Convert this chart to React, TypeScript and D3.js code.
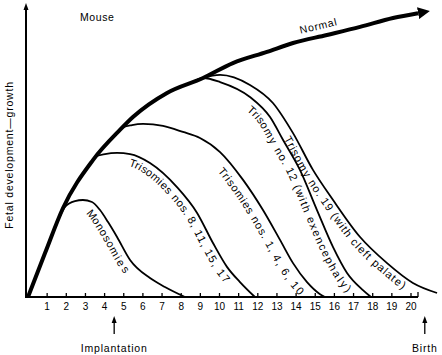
import React, { useEffect, useRef } from "react";
import * as d3 from "d3";

const W = 442;
const H = 355;

// x axis: days of gestation
const tickDays = d3.range(1, 21);

// Normal growth curve
const normalDays = [0, 0.89, 1.83, 3.39, 4.8, 5.48, 7.26, 9.14, 10.7, 12.48, 13.84, 15.61, 17.34, 19.06, 20.37];
const normalGrowth = [0, 15.3, 31.0, 47.7, 58.2, 62.7, 71.1, 76.3, 81.5, 85.4, 88.5, 91.3, 94.1, 97.2, 98.9];

// Monosomies
const monoDays = [1.67, 1.93, 2.45, 2.87, 3.34, 3.76, 4.18, 4.65, 5.33, 6.37, 7.15, 8.2];
const monoGrowth = [28.2, 31.4, 33.4, 33.8, 33.1, 30.3, 26.1, 20.9, 12.9, 6.6, 3.5, 0];

// Trisomies nos. 8, 11, 15, 17
const tri8Days = [3.24, 3.5, 4.02, 4.65, 5.33, 6.37, 7.78, 8.83, 9.66, 10.39, 11.07, 11.85];
const tri8Growth = [46.0, 48.8, 49.8, 50.2, 49.8, 46.7, 38.3, 29.3, 18.8, 10.5, 5.2, 0];

// Trisomies nos. 1, 4, 6, 10
const tri1Days = [4.54, 4.91, 5.43, 6.01, 7.05, 8.09, 8.98, 10.03, 11.23, 12.27, 13.16, 13.84, 14.57, 15.25, 15.51];
const tri1Growth = [56.4, 58.9, 59.9, 60.3, 59.6, 57.5, 55.4, 50.5, 40.8, 30.3, 19.9, 11.8, 5.2, 1.0, 0];

// Trisomy no. 12
const tri12Days = [8.72, 9.14, 10.03, 11.59, 12.64, 13.32, 14.2, 15.09, 15.93, 16.66, 17.49, 17.91];
const tri12Growth = [75.3, 76.3, 74.9, 69.7, 62.7, 54.7, 44.3, 30.3, 17.4, 8.4, 2.4, 0];

// Trisomy no. 19
const tri19Days = [8.72, 9.14, 10.03, 11.59, 12.79, 13.84, 14.88, 15.93, 17.34, 18.75, 20.1, 21.36];
const tri19Growth = [75.3, 76.3, 77.4, 73.9, 67.6, 57.1, 44.3, 33.8, 20.9, 11.8, 4.9, 1.4];

const seriesNames = [
  "Monosomies",
  "Trisomies nos. 8, 11, 15, 17",
  "Trisomies nos. 1, 4, 6, 10",
  "Trisomy no. 12 (with exencephaly)",
  "Trisomy no. 19 (with cleft palate)",
];
const seriesDays = [monoDays, tri8Days, tri1Days, tri12Days, tri19Days];
const seriesGrowth = [monoGrowth, tri8Growth, tri1Growth, tri12Growth, tri19Growth];
// where along each curve (in days) its label begins
const labelStartDay = [3.55, 5.45, 10.5, 11.85, 13.85];
const labelOffset = [13, 12, 15, 13, 11];
const labelSpacing = [1.0, 1.0, 1.0, 1.35, 0.9];

const eventNames = ["Implantation", "Birth"];
const eventDays = [4.5, 20.72];

const FONT = "'Liberation Sans', Arial, Helvetica, sans-serif";

export default function App() {
  const ref = useRef<SVGSVGElement | null>(null);

  useEffect(() => {
    const svg = d3.select(ref.current);
    svg.selectAll("*").remove();

    const x = d3.scaleLinear().domain([0, 20]).range([28, 411]);
    const y = d3.scaleLinear().domain([0, 100]).range([297, 10]);

    const line = d3
      .line<[number, number]>()
      .x((d) => x(d[0]))
      .y((d) => y(d[1]))
      .curve(d3.curveMonotoneX);

    const defs = svg.append("defs");
    defs
      .append("marker")
      .attr("id", "bigArrow")
      .attr("viewBox", "0 0 10 10")
      .attr("refX", 0)
      .attr("refY", 5)
      .attr("markerUnits", "userSpaceOnUse")
      .attr("markerWidth", 12)
      .attr("markerHeight", 13)
      .attr("orient", "auto")
      .append("path")
      .attr("d", "M0,0 L10,5 L0,10 Z")
      .attr("fill", "#000");

    // axes
    const x0 = 26;
    const y0 = y(0);
    svg
      .append("line")
      .attr("x1", x0)
      .attr("x2", x0)
      .attr("y1", y0 + 1)
      .attr("y2", 8)
      .attr("stroke", "#000")
      .attr("stroke-width", 2);
    svg
      .append("path")
      .attr("d", `M${x0 - 2.5},10 L${x0},3 L${x0 + 2.5},10 Z`)
      .attr("fill", "#000");
    svg
      .append("line")
      .attr("x1", x0 - 1)
      .attr("x2", 418)
      .attr("y1", y0)
      .attr("y2", y0)
      .attr("stroke", "#000")
      .attr("stroke-width", 2);
    svg
      .append("line")
      .attr("x1", 418)
      .attr("x2", 418)
      .attr("y1", y0)
      .attr("y2", y0 - 5)
      .attr("stroke", "#000")
      .attr("stroke-width", 1.3);

    const ticks = svg.append("g");
    ticks
      .selectAll("line")
      .data(tickDays)
      .join("line")
      .attr("x1", (d) => x(d))
      .attr("x2", (d) => x(d))
      .attr("y1", y0)
      .attr("y2", y0 - 4)
      .attr("stroke", "#000")
      .attr("stroke-width", 1.3);
    ticks
      .selectAll("text")
      .data(tickDays)
      .join("text")
      .attr("x", (d) => x(d))
      .attr("y", 310)
      .attr("text-anchor", "middle")
      .attr("font-family", FONT)
      .attr("font-size", 10)
      .text((d) => String(d));

    // event arrows
    eventNames.forEach((name, i) => {
      const ex = x(eventDays[i]);
      svg
        .append("line")
        .attr("x1", ex)
        .attr("x2", ex)
        .attr("y1", 334)
        .attr("y2", 322)
        .attr("stroke", "#000")
        .attr("stroke-width", 1.3);
      svg
        .append("path")
        .attr("d", `M${ex - 2.5},323 L${ex},316 L${ex + 2.5},323 Z`)
        .attr("fill", "#000");
      svg
        .append("text")
        .attr("x", ex)
        .attr("y", 352)
        .attr("text-anchor", "middle")
        .attr("font-family", FONT)
        .attr("font-size", 10.5)
        .attr("letter-spacing", 0.8)
        .text(name);
    });

    // titles
    svg
      .append("text")
      .attr("x", 80)
      .attr("y", 21)
      .attr("font-family", FONT)
      .attr("font-size", 10.5)
      .attr("letter-spacing", 0.6)
      .text("Mouse");
    svg
      .append("text")
      .attr("transform", "translate(13,155) rotate(-90)")
      .attr("text-anchor", "middle")
      .attr("font-family", FONT)
      .attr("font-size", 10.5)
      .attr("letter-spacing", 0.8)
      .text("Fetal development\u2014growth");

    const lengthAtX = (node: SVGPathElement, tx: number) => {
      let lo = 0;
      let hi = node.getTotalLength();
      for (let k = 0; k < 40; k++) {
        const mid = (lo + hi) / 2;
        if (node.getPointAtLength(mid).x < tx) lo = mid;
        else hi = mid;
      }
      return lo;
    };

    // abnormal curves
    seriesNames.forEach((name, i) => {
      const pts = seriesDays[i].map((d, j) => [d, seriesGrowth[i][j]] as [number, number]);
      const p = svg
        .append("path")
        .attr("id", `curve${i}`)
        .attr("d", line(pts) || "")
        .attr("fill", "none")
        .attr("stroke", "#000")
        .attr("stroke-width", 1.8);
      const node = p.node() as SVGPathElement;
      const off = lengthAtX(node, x(labelStartDay[i]));
      svg
        .append("text")
        .attr("dy", labelOffset[i])
        .attr("font-family", FONT)
        .attr("font-size", 11)
        .attr("letter-spacing", labelSpacing[i])
        .append("textPath")
        .attr("href", `#curve${i}`)
        .attr("startOffset", off)
        .text(name);
    });

    // normal curve
    const npts = normalDays.map((d, j) => [d, normalGrowth[j]] as [number, number]);
    const np = svg
      .append("path")
      .attr("id", "normalCurve")
      .attr("d", line(npts) || "")
      .attr("fill", "none")
      .attr("stroke", "#000")
      .attr("stroke-width", 4)
      .attr("marker-end", "url(#bigArrow)");
    const nOff = lengthAtX(np.node() as SVGPathElement, 302);
    svg
      .append("text")
      .attr("dy", -7)
      .attr("font-family", FONT)
      .attr("font-size", 10.5)
      .attr("letter-spacing", 0.8)
      .append("textPath")
      .attr("href", "#normalCurve")
      .attr("startOffset", nOff)
      .text("Normal");
  }, []);

  return (
    <svg
      ref={ref}
      width={W}
      height={H}
      viewBox={`0 0 ${W} ${H}`}
      style={{ position: "absolute", left: 0, top: 0, background: "#fff", display: "block" }}
    />
  );
}
